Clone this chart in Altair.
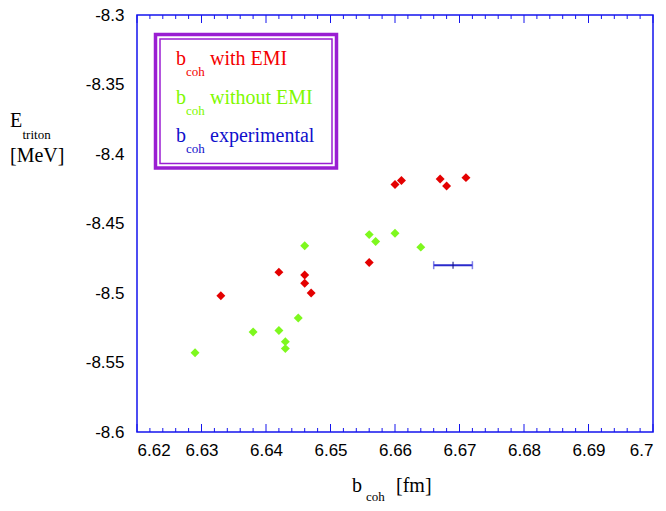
import altair as alt
import pandas as pd

# ---- data ----
red_x = [6.660, 6.661, 6.667, 6.668, 6.671, 6.656, 6.642, 6.646, 6.646, 6.647, 6.633]
red_y = [-8.422, -8.419, -8.418, -8.423, -8.417, -8.478, -8.485, -8.487, -8.493, -8.500, -8.502]
green_x = [6.646, 6.656, 6.657, 6.660, 6.664, 6.645, 6.638, 6.642, 6.643, 6.643, 6.629]
green_y = [-8.466, -8.458, -8.463, -8.457, -8.467, -8.518, -8.528, -8.527, -8.535, -8.540, -8.543]
exp_x = [6.669]
exp_err = [0.003]
exp_y = [-8.480]

x_major = [6.62, 6.63, 6.64, 6.65, 6.66, 6.67, 6.68, 6.69, 6.70]
x_labels = ["6.62", "6.63", "6.64", "6.65", "6.66", "6.67", "6.68", "6.69", "6.7"]
x_minor = [6.622, 6.624, 6.626, 6.628, 6.632, 6.634, 6.636, 6.638,
           6.642, 6.644, 6.646, 6.648, 6.652, 6.654, 6.656, 6.658,
           6.662, 6.664, 6.666, 6.668, 6.672, 6.674, 6.676, 6.678,
           6.682, 6.684, 6.686, 6.688, 6.692, 6.694, 6.696, 6.698]
y_major = [-8.30, -8.35, -8.40, -8.45, -8.50, -8.55, -8.60]
y_labels = ["-8.3", "-8.35", "-8.4", "-8.45", "-8.5", "-8.55", "-8.6"]

W, H = 516, 417
BLUE = "#1414ee"
PURPLE = "#9a1ed2"
SANS = "Liberation Sans"
SERIF = "Liberation Serif"


def label_expr(values, labels):
    expr = "''"
    for v, l in reversed(list(zip(values, labels))):
        expr = f"abs(datum.value - ({v})) < 1e-6 ? '{l}' : ({expr})"
    return expr


xs = alt.Scale(domain=[6.62, 6.70], nice=False, zero=False)
ys = alt.Scale(domain=[-8.6, -8.3], nice=False, zero=False)

x_axis = alt.Axis(values=x_major, labelExpr=label_expr(x_major, x_labels), ticks=False,
                  domain=False, grid=False, title=None, labelFont=SANS, labelFontSize=17,
                  labelColor="black", labelPadding=10)
y_axis = alt.Axis(values=y_major, labelExpr=label_expr(y_major, y_labels), ticks=False,
                  domain=False, grid=False, title=None, labelFont=SANS, labelFontSize=17,
                  labelColor="black", labelPadding=13)

pts = pd.DataFrame({
    "x": red_x + green_x,
    "y": red_y + green_y,
    "s": ["with"] * len(red_x) + ["without"] * len(green_x),
})
points = alt.Chart(pts).mark_point(shape="diamond", filled=True, size=80, opacity=1).encode(
    x=alt.X("x:Q", scale=xs, axis=x_axis),
    y=alt.Y("y:Q", scale=ys, axis=y_axis),
    color=alt.Color("s:N", scale=alt.Scale(domain=["with", "without"], range=["#e40000", "#7ef81e"]),
                    legend=None),
)

exp = pd.DataFrame({"x": exp_x, "y": exp_y, "err": exp_err})
exp["lo"] = exp["x"] - exp["err"]
exp["hi"] = exp["x"] + exp["err"]
bar = alt.Chart(exp).mark_rule(color="#2a2acc", strokeWidth=2).encode(
    x=alt.X("lo:Q", scale=xs), x2="hi:Q", y=alt.Y("y:Q", scale=ys))
caps = alt.Chart(exp).transform_fold(["lo", "hi"], as_=["k", "cx"]).mark_tick(
    orient="vertical", size=8, thickness=1.5, color="#4a4ae0").encode(
    x=alt.X("cx:Q", scale=xs), y=alt.Y("y:Q", scale=ys))
center = alt.Chart(exp).mark_tick(orient="vertical", size=7, thickness=1.5, color="#101080").encode(
    x=alt.X("x:Q", scale=xs), y=alt.Y("y:Q", scale=ys))

maj = pd.DataFrame({"v": x_major})
mino = pd.DataFrame({"v": x_minor})


def ticks(df, y0, y1):
    return alt.Chart(df).mark_rule(color=BLUE, strokeWidth=1).encode(
        x=alt.X("v:Q", scale=xs), y=alt.value(y0), y2=alt.value(y1))


tick_layers = [ticks(maj, 0, 8), ticks(mino, 0, 4), ticks(maj, H, H - 8), ticks(mino, H, H - 4)]

one = pd.DataFrame({"a": [0]})


def rect(x0, y0, x1, y1, sw):
    return alt.Chart(one).mark_rect(fill=None, filled=False, stroke=PURPLE, strokeWidth=sw).encode(
        x=alt.value(x0), x2=alt.value(x1), y=alt.value(y0), y2=alt.value(y1))


def txt(s, x, y, size, color, font=SERIF):
    return alt.Chart(one).mark_text(text=s, align="left", baseline="alphabetic", font=font,
                                    fontSize=size, color=color).encode(
        x=alt.value(x), y=alt.value(y))


legend_layers = [
    alt.Chart(one).mark_rect(color="white").encode(
        x=alt.value(18), x2=alt.value(200), y=alt.value(19), y2=alt.value(154)),
    rect(18.5, 19.5, 199.5, 153, 3.5),
    rect(23, 24, 195, 148.5, 1.5),
]
leg_items = [("with EMI", "#f40000", 50), ("without EMI", "#80f800", 88.5), ("experimental", "#1010cc", 126.5)]
for label, col, yb in leg_items:
    legend_layers += [txt("b", 39, yb, 20, col), txt("coh", 49, yb + 11, 13, col),
                      txt(label, 73, yb, 20, col)]

title_layers = [
    txt("E", -127, 112, 20, "black"),
    txt("triton", -114.5, 124, 13, "black"),
    txt("[MeV]", -127, 147, 20, "black"),
    txt("b", 215, 477, 20, "black"),
    txt("coh", 229, 486, 13, "black"),
    txt("[fm]", 259, 477, 20, "black"),
]

chart = alt.layer(*tick_layers, bar, caps, center, points, *legend_layers, *title_layers).properties(
    width=W, height=H,
    autosize=alt.AutoSizeParams(type="none"),
    padding={"left": 129, "top": 7, "right": 5, "bottom": 71},
).configure_view(stroke=BLUE, strokeWidth=1.5).configure_text(font=SERIF)

chart.save("out.html", embed_options={"renderer": "svg", "actions": False})
